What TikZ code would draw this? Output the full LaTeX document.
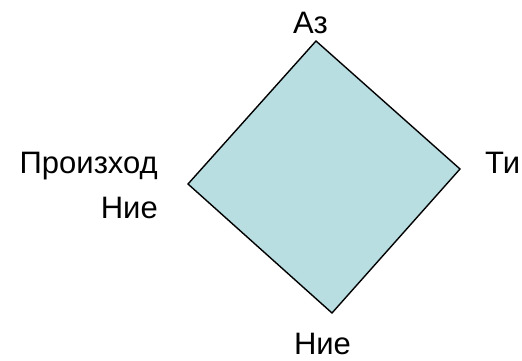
\documentclass[tikz,border=0pt]{standalone}
\usepackage{fontspec}
\setmainfont{Liberation Sans}
\definecolor{diafill}{RGB}{184,222,226}
\begin{document}
\begin{tikzpicture}[x=1pt,y=-1pt,
  lbl/.style={font=\fontsize{31}{36}\selectfont, inner sep=0pt}]
\useasboundingbox (0,0) rectangle (522,361);
\coordinate (T) at (316,41);
\coordinate (R) at (460,169);
\coordinate (B) at (332,313);
\coordinate (L) at (188,184);
\draw[line width=1.4pt, fill=diafill, line join=miter] (T) -- (R) -- (B) -- (L) -- cycle;
\node[lbl, anchor=base] (az) at (310.5,34) {Аз};
\node[lbl, anchor=base west] (ti) at (485,173) {Ти};
\node[lbl, anchor=base east] (pr) at (158,173) {Произход};
\node[lbl, anchor=base east] (nie1) at (158,218) {Ние};
\node[lbl, anchor=base, text depth=0pt] (nie2) at (322.5,354.5) {Ние};
\end{tikzpicture}
\end{document}
